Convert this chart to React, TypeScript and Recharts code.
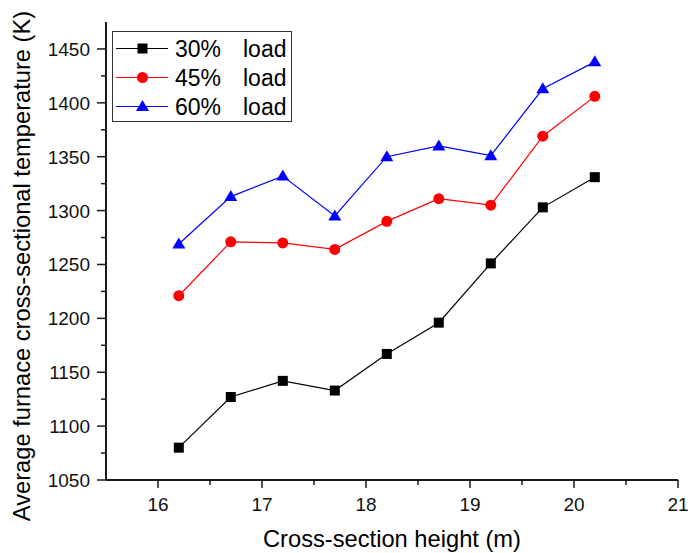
import React from "react";
import { LineChart, Line, XAxis, YAxis, Legend, Label } from "recharts";

const heights = [16.2, 16.7, 17.2, 17.7, 18.2, 18.7, 19.2, 19.7, 20.2];
const load30 = [1080, 1127, 1142, 1133, 1167, 1196, 1251, 1303, 1331];
const load45 = [1221, 1271, 1270, 1264, 1290, 1311, 1305, 1369, 1406];
const load60 = [1269, 1313, 1332, 1295, 1350, 1360, 1351, 1413, 1438];

const seriesNames = ["30%", "45%", "60%"];
const seriesColors = ["#000000", "#ff0000", "#0000ff"];
const seriesShapes = ["square", "circle", "triangle"];

const xTicks = [16, 16.5, 17, 17.5, 18, 18.5, 19, 19.5, 20, 20.5, 21];
const yTicks = [1050, 1075, 1100, 1125, 1150, 1175, 1200, 1225, 1250, 1275, 1300, 1325, 1350, 1375, 1400, 1425, 1450];

const xTitle = "Cross-section height (m)";
const yTitle = "Average furnace cross-sectional temperature (K)";

const data = heights.map((h, i) => ({ h, s30: load30[i], s45: load45[i], s60: load60[i] }));

const FONT = "'Liberation Sans', Arial, Helvetica, sans-serif";
const AX = "#1a1a1a";

function Marker({ shape, cx, cy, color }: { shape: string; cx: number; cy: number; color: string }) {
  if (cx == null || cy == null || isNaN(cx) || isNaN(cy)) return null;
  if (shape === "square") return <rect x={cx - 5} y={cy - 5} width={10} height={10} fill={color} />;
  if (shape === "circle") return <circle cx={cx} cy={cy} r={5.5} fill={color} />;
  return <polygon points={`${cx},${cy - 6.5} ${cx - 6.5},${cy + 4.5} ${cx + 6.5},${cy + 4.5}`} fill={color} />;
}

const isMajorX = (v: number) => Math.abs(v - Math.round(v)) < 1e-6;
const isMajorY = (v: number) => Math.abs(v % 50) < 1e-6;

const BottomTick = (p: any) => {
  const { x, y, payload } = p;
  const v = payload.value;
  const major = isMajorX(v);
  return (
    <g>
      <line x1={x} x2={x} y1={y} y2={y + (major ? 8 : 5)} stroke={AX} strokeWidth={1.5} />
      {major && (
        <text x={x} y={y + 31} textAnchor="middle" fontSize={19} fontFamily={FONT} fill="#111">
          {v}
        </text>
      )}
    </g>
  );
};

const LeftTick = (p: any) => {
  const { x, y, payload } = p;
  const v = payload.value;
  const major = isMajorY(v);
  return (
    <g>
      <line x1={x} x2={x - (major ? 9 : 5)} y1={y} y2={y} stroke={AX} strokeWidth={1.5} />
      {major && (
        <text x={x - 16} y={y + 7} textAnchor="end" fontSize={19} fontFamily={FONT} fill="#111">
          {v}
        </text>
      )}
    </g>
  );
};

const TopTick = (p: any) => {
  const { x, y } = p;
  return <line x1={x} x2={x} y1={y} y2={y - 3} stroke={AX} strokeWidth={1.2} />;
};

const RightTick = (p: any) => {
  const { x, y } = p;
  return <line x1={x} x2={x + 3} y1={y} y2={y} stroke={AX} strokeWidth={1.2} />;
};

const LegendBox = () => (
  <div
    style={{
      width: 180,
      height: 91,
      border: "1px solid #333",
      boxSizing: "border-box",
      background: "#fff",
    }}
  >
    <svg width={178} height={89} style={{ display: "block" }}>
      {seriesNames.map((n, i) => {
        const cy = 16.5 + i * 29;
        return (
          <g key={n}>
            <line x1={3} x2={55} y1={cy} y2={cy} stroke={seriesColors[i]} strokeWidth={1.2} />
            <Marker shape={seriesShapes[i]} cx={29.5} cy={cy} color={seriesColors[i]} />
            <text x={62} y={cy + 8.5} fontSize={23} fontFamily={FONT} fill="#000">
              {n}
            </text>
            <text x={130} y={cy + 8.5} fontSize={23} fontFamily={FONT} fill="#000">
              load
            </text>
          </g>
        );
      })}
    </svg>
  </div>
);

export default function App() {
  return (
    <div style={{ position: "absolute", left: 0, top: 0, width: 688, height: 553, background: "#fff" }}>
      <LineChart width={688} height={553} data={data} margin={{ top: 22, right: 10, bottom: 0, left: 0 }}>
        <XAxis
          xAxisId="b"
          type="number"
          dataKey="h"
          domain={[15.5, 21]}
          ticks={xTicks}
          allowDataOverflow
          height={73}
          tickSize={0}
          tickMargin={0}
          tickLine={false}
          interval={0}
          tick={BottomTick}
          axisLine={{ stroke: AX, strokeWidth: 2 }}
        >
          <Label
            content={(lp: any) => {
              const vb = lp.viewBox || {};
              return (
                <text
                  x={vb.x + vb.width / 2}
                  y={vb.y + 67}
                  textAnchor="middle"
                  fontSize={23.7}
                  fontFamily={FONT}
                  fill="#000"
                >
                  {xTitle}
                </text>
              );
            }}
          />
        </XAxis>
        <XAxis
          xAxisId="t"
          orientation="top"
          type="number"
          dataKey="h"
          domain={[15.5, 21]}
          ticks={xTicks}
          allowDataOverflow
          height={0}
          tickSize={0}
          tickMargin={0}
          tickLine={false}
          interval={0}
          tick={TopTick}
          axisLine={{ stroke: AX, strokeWidth: 2 }}
        />
        <YAxis
          yAxisId="l"
          type="number"
          domain={[1050, 1475]}
          ticks={yTicks}
          allowDataOverflow
          width={106}
          tickSize={0}
          tickMargin={0}
          tickLine={false}
          interval={0}
          tick={LeftTick}
          axisLine={{ stroke: AX, strokeWidth: 2 }}
        >
          <Label
            content={() => (
              <text
                x={30}
                y={266}
                transform="rotate(-90, 30, 266)"
                textAnchor="middle"
                fontSize={23.7}
                fontFamily={FONT}
                fill="#000"
              >
                {yTitle}
              </text>
            )}
          />
        </YAxis>
        <YAxis
          yAxisId="r"
          orientation="right"
          type="number"
          domain={[1050, 1475]}
          ticks={yTicks}
          allowDataOverflow
          width={0}
          tickSize={0}
          tickMargin={0}
          tickLine={false}
          interval={0}
          tick={RightTick}
          axisLine={{ stroke: AX, strokeWidth: 2 }}
        />
        {["s30", "s45", "s60"].map((k, i) => (
          <Line
            key={k}
            xAxisId="b"
            yAxisId="l"
            type="linear"
            dataKey={k}
            name={seriesNames[i]}
            stroke={seriesColors[i]}
            strokeWidth={1.2}
            isAnimationActive={false}
            dot={(dp: any) => (
              <Marker key={`${k}-${dp.index}`} shape={seriesShapes[i]} cx={dp.cx} cy={dp.cy} color={seriesColors[i]} />
            )}
            activeDot={false}
          />
        ))}
        <Legend
          layout="vertical"
          align="center"
          verticalAlign="middle"
          content={() => <LegendBox />}
          wrapperStyle={{ position: "absolute", left: 112, top: 31, width: 180, height: 91, margin: 0, padding: 0 }}
        />
      </LineChart>
    </div>
  );
}
